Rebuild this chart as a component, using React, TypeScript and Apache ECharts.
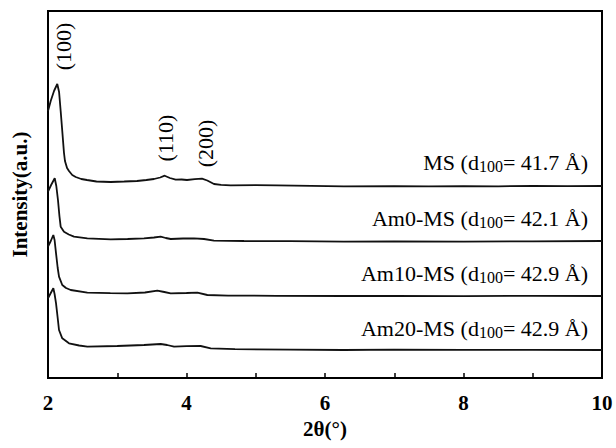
import React, { useEffect, useRef } from "react";
import * as echarts from "echarts";

// 2θ (°) and stacked intensity (a.u.)
const msX = [2.0, 2.039, 2.087, 2.134, 2.16, 2.183, 2.206, 2.231, 2.245, 2.275, 2.303, 2.35, 2.4, 2.48, 2.563, 2.7, 2.905, 3.1, 3.285, 3.42, 3.531, 3.62, 3.685, 3.76, 3.844, 3.93, 4.007, 4.12, 4.224, 4.3, 4.397, 4.5, 4.638, 5.0, 5.307, 5.8, 6.274, 7.0, 7.5, 8.0, 8.5, 9.0, 9.5, 10.0];
const msY = [267, 277, 287, 294, 286, 267, 247, 225, 217, 210, 207, 203, 201, 199, 198, 196.5, 196, 196.5, 197, 198, 199, 200.5, 202.3, 200, 198.3, 198.5, 198, 198.8, 199.3, 197.5, 194, 193.2, 192.7, 192.9, 192.7, 192.2, 191.7, 191.8, 191.6, 191.9, 191.7, 192.0, 191.8, 192.0];

const am0X = [2.0, 2.045, 2.097, 2.12, 2.144, 2.165, 2.183, 2.231, 2.3, 2.375, 2.568, 2.905, 3.15, 3.386, 3.53, 3.627, 3.7, 3.772, 3.95, 4.108, 4.253, 4.397, 4.83, 5.5, 6.274, 7.0, 8.0, 9.0, 10.0];
const am0Y = [186.3, 193, 199.7, 192, 178, 162, 151.3, 146.3, 143.5, 141.3, 139.7, 138.7, 139, 139.7, 140.5, 141.3, 140, 139, 139.5, 139.7, 139, 137.3, 137, 136.8, 136.3, 136.6, 136.4, 136.7, 137];

const am10X = [2.0, 2.04, 2.077, 2.095, 2.116, 2.14, 2.159, 2.206, 2.26, 2.328, 2.568, 2.9, 3.146, 3.4, 3.579, 3.68, 3.772, 4.0, 4.157, 4.301, 4.6, 5.3, 6.274, 7.0, 8.0, 9.0, 10.0];
const am10Y = [131.3, 137, 143, 138, 124.7, 110, 101.3, 93, 90, 88, 85.3, 84.8, 84.7, 85.5, 87.3, 86, 84.7, 85, 85.3, 83, 82.4, 82.2, 82, 82.2, 81.9, 82.1, 82];

const am20X = [2.0, 2.04, 2.077, 2.095, 2.116, 2.14, 2.159, 2.206, 2.303, 2.45, 2.568, 3.0, 3.386, 3.627, 3.72, 3.82, 4.0, 4.205, 4.35, 4.7, 5.5, 6.274, 7.0, 8.0, 9.0, 10.0];
const am20Y = [79.7, 85, 89.7, 84, 74.7, 60, 48, 39.7, 34.7, 32.5, 31.3, 32, 33, 34, 33, 31.3, 31.8, 32, 29.7, 28.8, 28.4, 28, 28.3, 28.1, 28.2, 28];

const sampleNames = ["MS", "Am0-MS", "Am10-MS", "Am20-MS"];
const dSpacings = ["41.7", "42.1", "42.9", "42.9"];
const peakLabels = ["(100)", "(110)", "(200)"];

const SERIF = "'Liberation Serif', 'Times New Roman', serif";

function pairs(xs: number[], ys: number[]) {
  return xs.map((x, i) => [x, ys[i]]);
}

export default function App() {
  const ref = useRef<HTMLDivElement>(null);
  useEffect(() => {
    if (!ref.current) return;
    const chart = echarts.init(ref.current, undefined, { renderer: "svg" });
    const seriesData = [pairs(msX, msY), pairs(am0X, am0Y), pairs(am10X, am10Y), pairs(am20X, am20Y)];
    const labelPos = [
      [588, 162],
      [588, 218],
      [588, 273],
      [588, 328],
    ];
    const peakPos = [
      [63.5, 46.5],
      [165.7, 138],
      [205, 143.5],
    ];
    chart.setOption({
      animation: false,
      backgroundColor: "#fff",
      grid: {
        left: 48,
        right: 14,
        top: 11,
        bottom: 70,
        show: true,
        borderColor: "#000",
        borderWidth: 2,
        backgroundColor: "transparent",
      },
      xAxis: {
        type: "value",
        min: 2,
        max: 10,
        interval: 1,
        name: "2θ(°)",
        nameLocation: "middle",
        nameGap: 40,
        nameTextStyle: { fontFamily: SERIF, fontWeight: "bold", fontSize: 21, color: "#000" },
        axisLine: { show: true, lineStyle: { color: "#000", width: 2 } },
        axisTick: { show: true, inside: true, length: 5, lineStyle: { color: "#000", width: 1.5 } },
        axisLabel: {
          margin: 14,
          fontFamily: SERIF,
          fontWeight: "bold",
          fontSize: 21,
          color: "#000",
          showMinLabel: true,
          showMaxLabel: true,
          formatter: (v: number) => (v % 2 === 0 ? String(v) : ""),
        },
        splitLine: { show: false },
      },
      yAxis: {
        type: "value",
        min: 0,
        max: 367,
        name: "Intensity(a.u.)",
        nameLocation: "middle",
        nameGap: 18,
        nameTextStyle: { fontFamily: SERIF, fontWeight: "bold", fontSize: 21, color: "#000" },
        axisLine: { show: true, lineStyle: { color: "#000", width: 2 } },
        axisTick: { show: false },
        axisLabel: { show: false },
        splitLine: { show: false },
      },
      series: seriesData.map((d, i) => ({
        type: "line",
        name: sampleNames[i],
        data: d,
        showSymbol: false,
        symbol: "none",
        smooth: false,
        lineStyle: { color: "#111", width: 1.8 },
      })),
      graphic: [
        ...sampleNames.map((n, i) => ({
          type: "text",
          x: labelPos[i][0],
          y: labelPos[i][1],
          style: {
            text: `{n|${n} (d}{s|100}{n|= ${dSpacings[i]} Å)}`,
            align: "right",
            verticalAlign: "middle",
            rich: {
              n: { fontFamily: SERIF, fontSize: 22, fill: "#000" },
              s: { fontFamily: SERIF, fontSize: 16, fill: "#000", padding: [9, 0, 0, 0] },
            },
          },
        })),
        ...peakLabels.map((t, i) => ({
          type: "text",
          x: peakPos[i][0],
          y: peakPos[i][1],
          rotation: Math.PI / 2,
          style: {
            text: t,
            align: "center",
            verticalAlign: "middle",
            fontFamily: SERIF,
            fontSize: 22,
            fill: "#000",
          },
        })),
      ],
    });
    return () => chart.dispose();
  }, []);
  return <div ref={ref} style={{ width: 616, height: 448, position: "absolute", left: 0, top: 0 }} />;
}
